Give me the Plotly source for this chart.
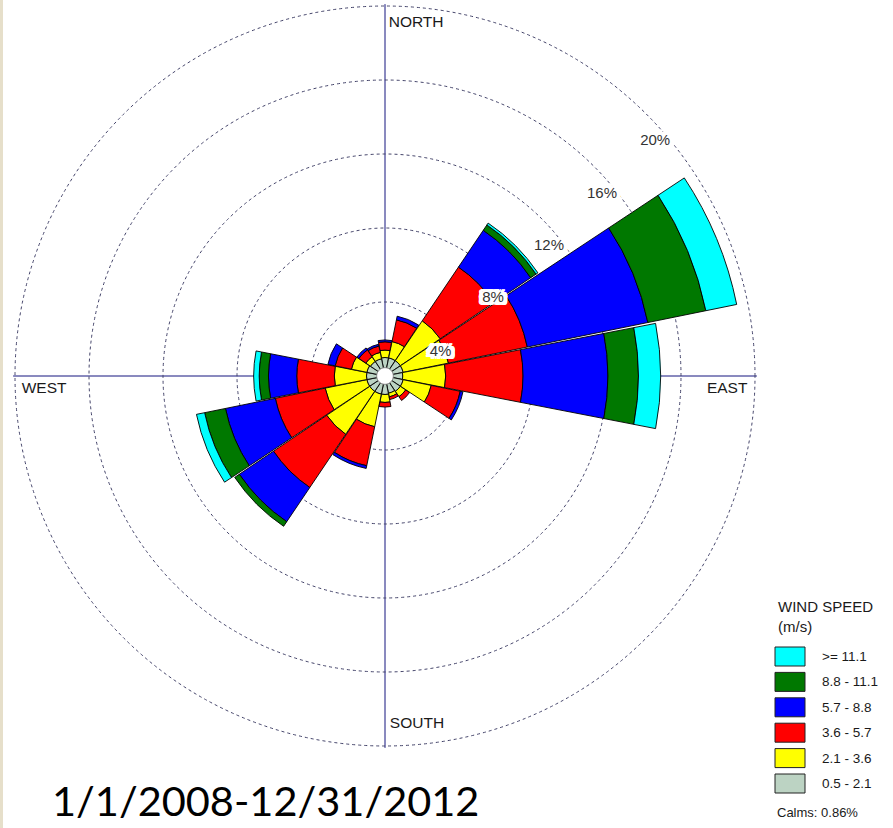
import plotly.graph_objects as go

# ---------------- data ----------------
directions = ["N", "NNE", "NE", "ENE", "E", "ESE", "SE", "SSE",
              "S", "SSW", "SW", "WSW", "W", "WNW", "NW", "NNW"]
angles = [0, 22.5, 45, 67.5, 90, 112.5, 135, 157.5,
          180, 202.5, 225, 247.5, 270, 292.5, 315, 337.5]

speed_labels = ["0.5 - 2.1", "2.1 - 3.6", "3.6 - 5.7", "5.7 - 8.8", "8.8 - 11.1", ">= 11.1"]
speed_colors = ["#bcd3c3", "#ffff00", "#ff0000", "#0000ff", "#007800", "#00ffff"]

# frequency (%) of each speed class per direction
s_05_21 = [1.0, 1.0, 1.0, 1.0, 0.96, 1.0, 1.0, 0.95, 1.0, 1.0, 1.0, 1.0, 1.0, 1.0, 0.95, 0.95]
s_21_36 = [0.4, 0.9, 2.6, 2.5, 2.32, 1.55, 0.35, 0.2, 0.43, 1.8, 2.8, 2.3, 1.74, 0.85, 0.3, 0.35]
s_36_57 = [0.45, 1.2, 3.5, 4.35, 4.18, 1.6, 0.25, 0.15, 0.25, 2.15, 3.47, 2.75, 2.03, 0.9, 0.45, 0.35]
s_57_88 = [0.1, 0.2, 2.4, 6.65, 4.59, 0.15, 0, 0, 0, 0.15, 2.23, 2.75, 1.53, 0.4, 0.13, 0.1]
s_88_111 = [0, 0, 0.35, 3.2, 1.65, 0, 0, 0, 0, 0, 0.3, 1.15, 0.5, 0, 0, 0]
s_ge_111 = [0, 0, 0.12, 1.7, 1.2, 0, 0, 0, 0, 0, 0, 0.45, 0.3, 0, 0, 0]
speed_series = [s_05_21, s_21_36, s_36_57, s_57_88, s_88_111, s_ge_111]

calms_pct = 0.86
radial_ticks = [4, 8, 12, 16, 20]
radial_ticktext = ["4%", "8%", "12%", "16%", "20%"]
# where the ring labels sit (radius in %, compass angle)
ring_label_r = [3.26, 7.2, 11.29, 15.31, 19.35]
ring_label_theta = [67.0, 54.2, 51.75, 50.0, 49.0]
compass_labels = ["NORTH", "EAST", "SOUTH", "WEST"]
compass_theta = [0.6, 92, 179.2, 268]
compass_r = [19.1, 19.6, 18.8, 19.65]
compass_pos = ["middle right", "middle left", "middle right", "middle right"]
calm_circle_r = 0.45
period_text = "1/1/2008-12/31/2012"

# ---------------- figure ----------------
W, H = 893, 828
fig = go.Figure()

for vals, name, col in zip(speed_series, speed_labels, speed_colors):
    fig.add_trace(go.Barpolar(
        r=[v if v > 0 else None for v in vals],
        theta=angles,
        width=[22] * len(angles),
        name=name,
        marker=dict(color=col, line=dict(color="#000000", width=0.9)),
        showlegend=False,
    ))

# calm circle (white hole in the middle)
circ_theta = list(range(0, 361, 5))
fig.add_trace(go.Scatterpolar(
    r=[calm_circle_r] * len(circ_theta), theta=circ_theta,
    mode="lines", fill="toself", fillcolor="#ffffff",
    line=dict(color="#7a7a7a", width=1), showlegend=False, hoverinfo="skip",
))

white_box = ", ".join(f"{dx}px {dy}px 0px #ffffff"
                      for dx in (-4, -3, -2, 0, 2, 3, 4) for dy in (-3, -2, 0, 2, 3))

# ring labels
fig.add_trace(go.Scatterpolar(
    r=ring_label_r, theta=ring_label_theta, mode="text", text=radial_ticktext,
    textposition="middle center",
    textfont=dict(family="Liberation Sans, Arial, sans-serif", size=15, color="#333333",
                  shadow=white_box),
    showlegend=False, hoverinfo="skip",
))

# compass labels
fig.add_trace(go.Scatterpolar(
    r=compass_r, theta=compass_theta, mode="text", text=compass_labels,
    textposition=compass_pos,
    textfont=dict(family="Liberation Sans, Arial, sans-serif", size=15.5, color="#1a1a1a"),
    showlegend=False, hoverinfo="skip",
))

R_MAX = 20.1
rad_px = 370 * R_MAX / 20
cx, cy = 385, 376
fig.update_layout(
    width=W, height=H,
    margin=dict(l=0, r=0, t=0, b=0),
    paper_bgcolor="#ffffff",
    showlegend=False,
    polar=dict(
        domain=dict(x=[(cx - rad_px) / W, (cx + rad_px) / W],
                    y=[1 - (cy + rad_px) / H, 1 - (cy - rad_px) / H]),
        bgcolor="#ffffff",
        barmode="stack",
        angularaxis=dict(
            rotation=90, direction="clockwise",
            tickmode="array", tickvals=[0, 90, 180, 270],
            showticklabels=False, ticks="",
            showgrid=True, gridcolor="#14147f", gridwidth=1,
            showline=False,
        ),
        radialaxis=dict(
            range=[0, R_MAX], tickmode="array", tickvals=radial_ticks, ticktext=radial_ticktext,
            showticklabels=False, showline=False, ticks="",
            showgrid=True, gridcolor="#44446a", griddash="dot", gridwidth=1,
        ),
    ),
)

# left beige strip
fig.add_shape(type="rect", xref="paper", yref="paper", x0=0, x1=3 / W, y0=0, y1=1,
              fillcolor="#e6dfca", line=dict(width=0), layer="below")

# custom legend built from the speed classes
lx0, lx1 = 775, 805
box_top0, box_step, box_h = 647, 25.4, 19
legend_font = dict(family="Liberation Sans, Arial, sans-serif", size=13.5, color="#1a1a1a")
fig.add_annotation(x=776 / W, y=1 - 596 / H, xref="paper", yref="paper",
                   text="WIND SPEED<br>(m/s)", showarrow=False, xanchor="left", yanchor="top",
                   align="left", font=dict(family="Liberation Sans, Arial, sans-serif", size=15, color="#1a1a1a"))
for i, (name, col) in enumerate(zip(speed_labels[::-1], speed_colors[::-1])):
    top = box_top0 + i * box_step
    fig.add_shape(type="rect", xref="paper", yref="paper",
                  x0=lx0 / W, x1=lx1 / W, y0=1 - (top + box_h) / H, y1=1 - top / H,
                  fillcolor=col, line=dict(color="#222222", width=1))
    fig.add_annotation(x=820 / W, y=1 - (top + box_h / 2) / H, xref="paper", yref="paper",
                       text=name, showarrow=False, xanchor="left", yanchor="middle",
                       font=legend_font)
fig.add_annotation(x=775 / W, y=1 - 812 / H, xref="paper", yref="paper",
                   text=f"Calms: {calms_pct:.2f}%", showarrow=False, xanchor="left", yanchor="middle",
                   font=dict(family="Liberation Sans, Arial, sans-serif", size=13, color="#1a1a1a"))

# period text
fig.add_annotation(x=50 / W, y=1 - 800 / H, xref="paper", yref="paper",
                   text=period_text, showarrow=False, xanchor="left", yanchor="middle",
                   font=dict(family="Lato, sans-serif", size=41.5, color="#000000"))

fig.write_html("out.html", config={"displayModeBar": False},
               post_script="document.body.style.margin='0px';document.body.style.overflow='hidden';")
